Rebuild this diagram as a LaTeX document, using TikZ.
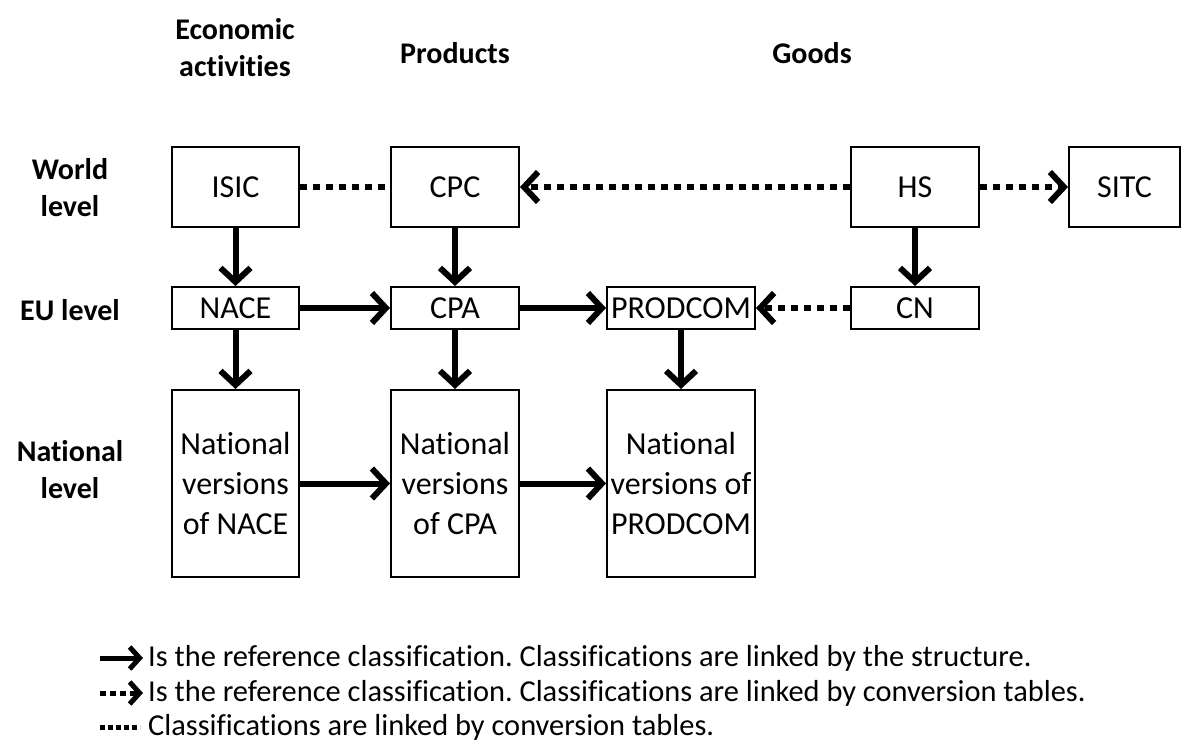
\documentclass[tikz,border=0pt]{standalone}
\usepackage{fontspec}
\setmainfont{Carlito}[Ligatures={NoCommon}]
\usetikzlibrary{arrows.meta}
\frenchspacing
\begin{document}
\begin{tikzpicture}[x=1pt,y=-1pt,
  box/.style={draw, line width=2pt, inner sep=0pt, font=\fontsize{32}{40}\selectfont, align=center},
  hdr/.style={font=\fontsize{30}{37}\selectfont\bfseries, align=center},
  legtext/.style={anchor=west, inner sep=0pt, font=\fontsize{30.4}{34}\selectfont},
  solidarrow/.style={line width=6pt, -{Straight Barb[length=14pt,width=30pt]}},
  dotline/.style={line width=6pt, dash pattern=on 7pt off 6pt},
  dotarrow/.style={dotline, -{Straight Barb[length=14pt,width=30pt]}},
  legsolid/.style={line width=5pt, -{Straight Barb[length=10pt,width=22pt]}},
  legdotarrow/.style={line width=5pt, dash pattern=on 6pt off 4pt, -{Straight Barb[length=10pt,width=22pt]}},
  legdot/.style={line width=5pt, dash pattern=on 5pt off 3pt}]
\useasboundingbox (0,0) rectangle (1186,742);

% headers
\node[hdr] (h1) at (235,48) {Economic\\activities};
\node[hdr] (h2) at (455,53) {Products};
\node[hdr] (h3) at (812,53) {Goods};
\node[hdr] (r1) at (70,188) {World\\level};
\node[hdr] (r2) at (70,310) {EU level};
\node[hdr] (r3) at (70,470) {National\\level};

% boxes
\node[box, minimum width=127pt, minimum height=80pt] (isic) at (235.5,187) {ISIC};
\node[box, minimum width=128pt, minimum height=80pt] (cpc) at (455,187) {CPC};
\node[box, minimum width=128pt, minimum height=80pt] (hs) at (915,187) {HS};
\node[box, minimum width=111pt, minimum height=80pt] (sitc) at (1124.5,187) {SITC};

\node[box, minimum width=127pt, minimum height=42pt] (nace) at (235.5,308) {NACE};
\node[box, minimum width=128pt, minimum height=42pt] (cpa) at (455,308) {CPA};
\node[box, minimum width=148pt, minimum height=42pt] (prodcom) at (681,308) {PRODCOM};
\node[box, minimum width=128pt, minimum height=42pt] (cn) at (915,308) {CN};

\node[box, minimum width=127pt, minimum height=187pt] (natnace) at (235.5,483.5) {National\\versions\\of NACE};
\node[box, minimum width=128pt, minimum height=187pt] (natcpa) at (455,483.5) {National\\versions\\of CPA};
\node[box, minimum width=148pt, minimum height=187pt] (natprod) at (681,483.5) {National\\versions of\\PRODCOM};

% solid arrows
\draw[solidarrow] (isic) -- (nace);
\draw[solidarrow] (cpc) -- (cpa);
\draw[solidarrow] (hs) -- (cn);
\draw[solidarrow] (nace) -- (natnace);
\draw[solidarrow] (cpa) -- (natcpa);
\draw[solidarrow] (prodcom) -- (natprod);
\draw[solidarrow] (nace) -- (cpa);
\draw[solidarrow] (cpa) -- (prodcom);
\draw[solidarrow] (natnace) -- (natcpa);
\draw[solidarrow] (natcpa) -- (natprod);

% dotted connectors
\draw[dotline] (isic) -- (cpc);
\draw[dotarrow] (hs) -- (cpc);
\draw[dotarrow] (hs) -- (sitc);
\draw[dotarrow] (cn) -- (prodcom);

% legend
\coordinate (la1) at (100,658); \coordinate (lb1) at (143,658);
\coordinate (la2) at (100,693); \coordinate (lb2) at (143,693);
\coordinate (la3) at (100,727); \coordinate (lb3) at (140,727);
\draw[legsolid] (la1) -- (lb1);
\draw[legdotarrow] (la2) -- (lb2);
\draw[legdot] (la3) -- (lb3);
\node[legtext] (t1) at (148,658) {Is the reference classification. Classifications are linked by the structure.};
\node[legtext] (t2) at (148,693) {Is the reference classification. Classifications are linked by conversion tables.};
\node[legtext] (t3) at (148,727) {Classifications are linked by conversion tables.};
\end{tikzpicture}
\end{document}
